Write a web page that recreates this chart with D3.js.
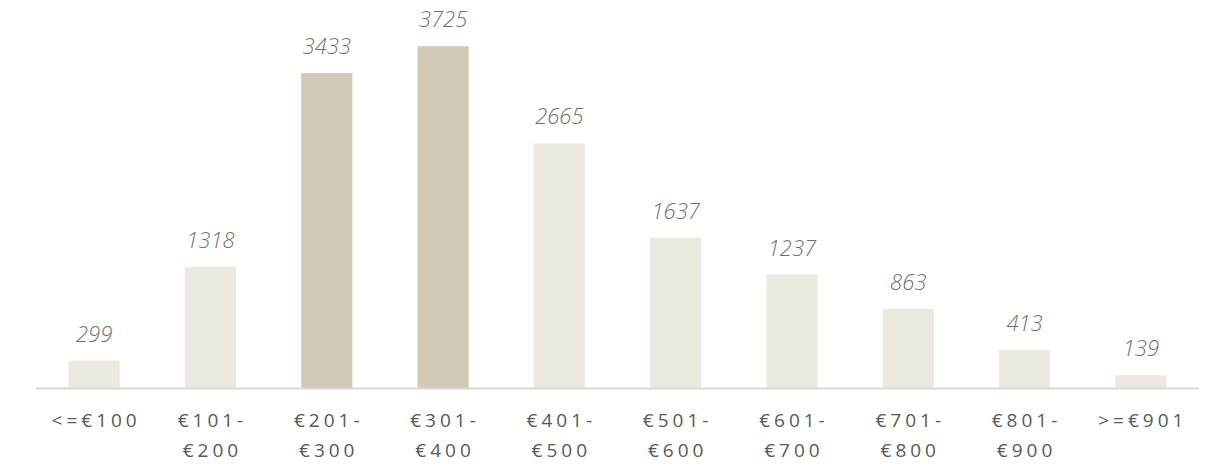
<!DOCTYPE html>
<html>
<head>
<meta charset="utf-8">
<script src="https://cdn.jsdelivr.net/npm/d3@7"></script>
<style>
  body { margin: 0; background: #fff; }
  svg text { font-family: "Open Sans", sans-serif; }
</style>
</head>
<body>
<svg id="chart"></svg>
<script>
const width = 1223, height = 474;

// data
const categories = ["<=€100", "€101-€200", "€201-€300", "€301-€400", "€401-€500",
                    "€501-€600", "€601-€700", "€701-€800", "€801-€900", ">=€901"];
const labelLines = [["<=€100"], ["€101-", "€200"], ["€201-", "€300"], ["€301-", "€400"],
                    ["€401-", "€500"], ["€501-", "€600"], ["€601-", "€700"], ["€701-", "€800"],
                    ["€801-", "€900"], [">=€901"]];
const values = [299, 1318, 3433, 3725, 2665, 1637, 1237, 863, 413, 139];
const highlighted = ["€201-€300", "€301-€400"];

const svg = d3.select('#chart')
    .attr('width', width)
    .attr('height', height);

const x = d3.scaleBand()
    .domain(categories)
    .range([36, 1199])
    .paddingInner(0.56)
    .paddingOuter(0.28);

const y = d3.scaleLinear()
    .domain([0, 4000])
    .range([388, 21]);

// bars
svg.append("g")
    .selectAll("rect")
    .data(values)
    .join("rect")
    .attr("x", (d, i) => x(categories[i]))
    .attr("y", d => y(d))
    .attr("width", x.bandwidth())
    .attr("height", d => y(0) - y(d))
    .style("fill", (d, i) => highlighted.includes(categories[i]) ? "#d2cab6" : "#ece9e1");

// value labels
svg.append("g")
    .selectAll("text")
    .data(values)
    .join("text")
    .attr("x", (d, i) => x(categories[i]) + x.bandwidth() / 2)
    .attr("y", d => y(d) - 19)
    .attr("text-anchor", "middle")
    .style("font-size", "22px")
    .style("font-style", "italic")
    .style("font-weight", 300)
    .style("fill", "#6f6f6f")
    .text(d => d);

// axis line
svg.append("line")
    .attr("x1", 36).attr("x2", 1199)
    .attr("y1", y(0) + 0.5).attr("y2", y(0) + 0.5)
    .style("stroke", "#d9d9d9")
    .style("stroke-width", 2);

// category labels
const ticks = svg.append("g")
    .selectAll("text")
    .data(categories)
    .join("text")
    .attr("x", d => x(d) + x.bandwidth() / 2 + 2)
    .attr("y", 427)
    .attr("text-anchor", "middle")
    .style("font-size", "19px")
    .style("letter-spacing", "4px")
    .style("fill", "#595959");

ticks.selectAll("tspan")
    .data((d, i) => labelLines[i])
    .join("tspan")
    .attr("x", function() { return d3.select(this.parentNode).attr("x"); })
    .attr("dy", (d, j) => j === 0 ? 0 : 30)
    .text(d => d);
</script>
</body>
</html>
